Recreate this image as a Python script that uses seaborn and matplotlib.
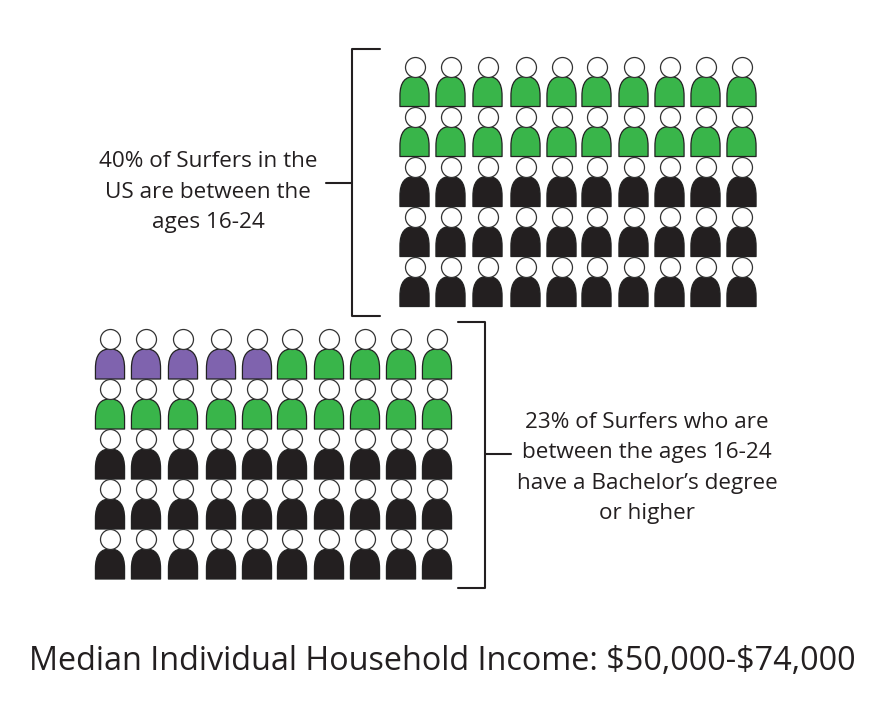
import numpy as np
import pandas as pd
import matplotlib
matplotlib.use('Agg')
import matplotlib.pyplot as plt
from matplotlib.path import Path
import seaborn as sns

# how many people of each kind, filled from the top left
top_groups = ['Ages 16-24', 'Other']
top_counts = [20, 30]
bottom_groups = ['Bachelor', 'Ages 16-24', 'Other']
bottom_counts = [5, 15, 30]

top_label = "40% of Surfers in the\nUS are between the\nages 16-24"
bottom_label = "23% of Surfers who are\nbetween the ages 16-24\nhave a Bachelor\u2019s degree\nor higher"
income_label = "Median Individual Household Income: $50,000-$74,000"

colors = {'Ages 16-24': '#39B54A', 'Other': '#231F20', 'Bachelor': '#7F63AE'}

# the columns are not quite evenly spaced in the original
col_offsets = np.array([0, 36, 73, 111, 147, 182, 219, 255, 291, 327])
row_step = 50

sns.set_theme(style='white')
plt.rcParams['font.family'] = ['Open Sans', 'DejaVu Sans']
plt.rcParams['text.parse_math'] = False

# dome shaped body
body = Path(
    [(-0.97, -1), (-0.97, -0.3), (-0.97, 0.65), (-0.6, 1), (0, 1), (0.6, 1),
     (0.97, 0.65), (0.97, -0.3), (0.97, -1), (-0.97, -1)],
    [Path.MOVETO, Path.LINETO, Path.CURVE4, Path.CURVE4, Path.CURVE4, Path.CURVE4,
     Path.CURVE4, Path.CURVE4, Path.LINETO, Path.CLOSEPOLY])


def people(groups, counts, x0, y0):
    df = pd.DataFrame({'group': np.repeat(groups, counts)})
    n_cols = len(col_offsets)
    df['col'] = np.arange(len(df)) % n_cols
    df['row'] = np.arange(len(df)) // n_cols
    df['x'] = x0 + col_offsets[df['col']]
    df['head_y'] = y0 + df['row'] * row_step
    df['body_y'] = df['head_y'] + 25
    return df


def draw_people(ax, df):
    sns.scatterplot(data=df, x='x', y='body_y', hue='group', palette=colors, marker=body,
                    s=467, edgecolor='#222222', linewidth=0.9, legend=False, ax=ax, zorder=2)
    sns.scatterplot(data=df, x='x', y='head_y', color='white', marker='o',
                    s=207, edgecolor='#333333', linewidth=0.9, legend=False, ax=ax, zorder=3)


fig, ax = plt.subplots(figsize=(8.83, 7.28), dpi=100)
fig.subplots_adjust(0, 0, 1, 1)
ax.set_xlim(0, 883)
ax.set_ylim(728, 0)

draw_people(ax, people(top_groups, top_counts, 414.5, 66.5))
draw_people(ax, people(bottom_groups, bottom_counts, 110, 339))

# brackets
ax.plot([380, 352, 352, 380], [49, 49, 316, 316], color='#231F20', lw=1.5)
ax.plot([326, 352], [183, 183], color='#231F20', lw=1.5)
ax.plot([458, 485, 485, 458], [322, 322, 588, 588], color='#231F20', lw=1.5)
ax.plot([485, 511], [454, 454], color='#231F20', lw=1.5)

ax.text(208, 192, top_label, ha='center', va='center', fontsize=16.2, color='#231F20', linespacing=1.6)
ax.text(647, 468, bottom_label, ha='center', va='center', fontsize=16.2, color='#231F20', linespacing=1.6)
ax.text(442, 661, income_label, ha='center', va='center', fontsize=23.3, color='#231F20')

ax.set_xlabel('')
ax.set_ylabel('')
ax.axis('off')
plt.savefig('out.png', dpi=100)
